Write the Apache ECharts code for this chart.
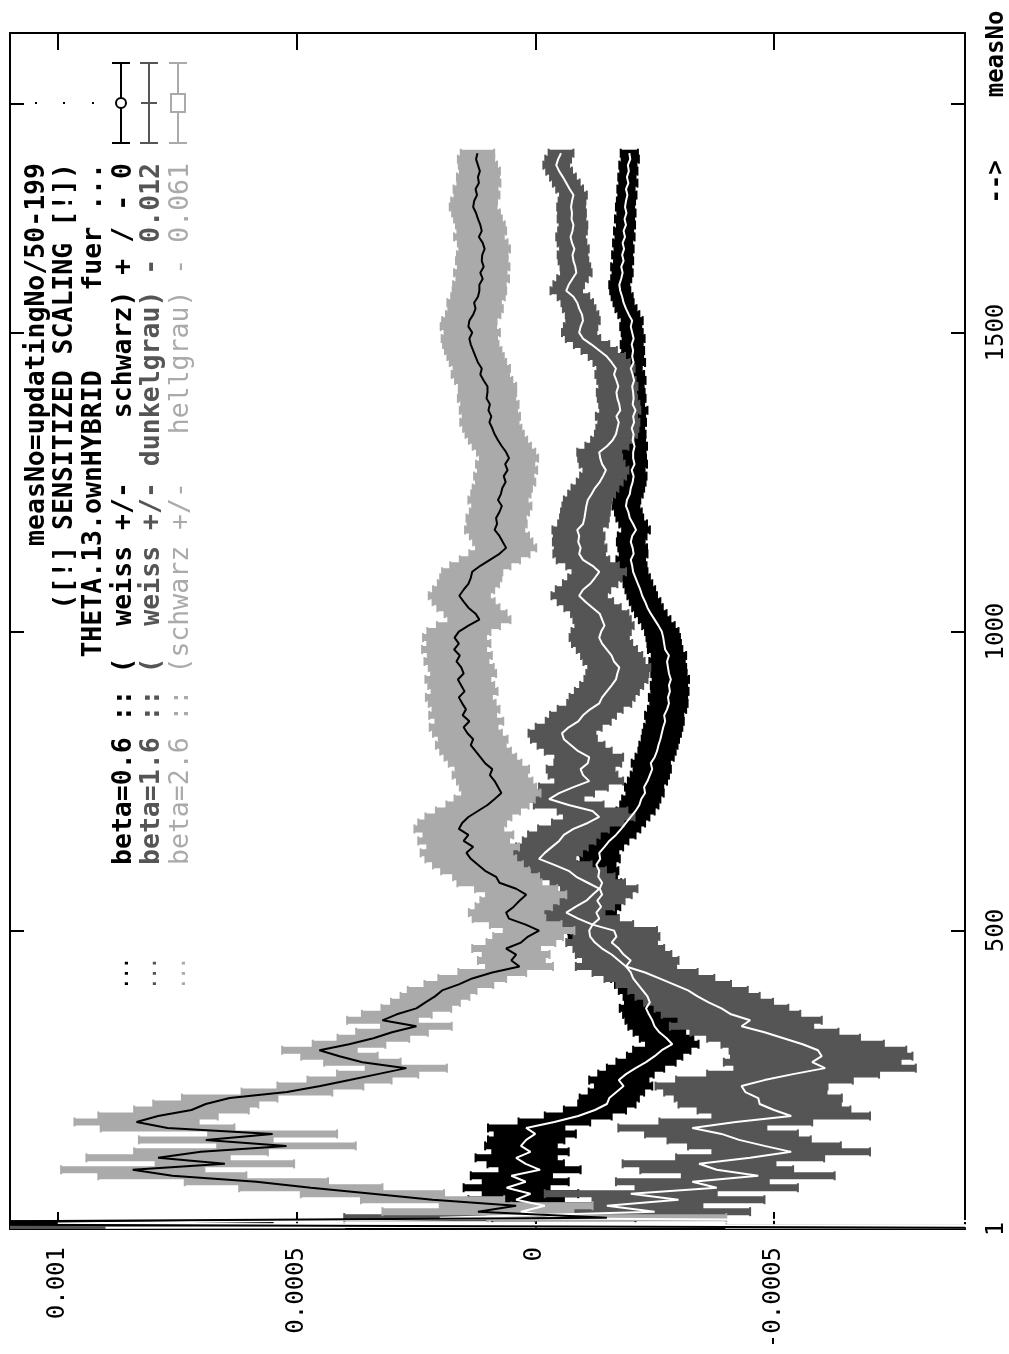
<!DOCTYPE html>
<html><head><meta charset="utf-8">
<script src="https://cdn.jsdelivr.net/npm/echarts@6/dist/echarts.min.js"></script>
<style>html,body{margin:0;padding:0;background:#fff}#c{width:1009px;height:1354px}</style>
</head><body><div id="c"></div>
<script>
// measurement numbers (vertical axis)
const measNo = [3,
10,20,30,40,50,60,70,80,90,100,
110,120,130,140,150,160,170,180,190,200,
210,220,230,240,250,260,270,280,290,300,
310,320,330,340,350,360,370,380,390,400,
410,420,430,440,450,460,470,480,490,500,
510,520,530,540,550,560,570,580,590,600,
610,620,630,640,650,660,670,680,690,700,
710,720,730,740,750,760,770,780,790,800,
810,820,830,840,850,860,870,880,890,900,
910,920,930,940,950,960,970,980,990,1000,
1010,1020,1030,1040,1050,1060,1070,1080,1090,1100,
1110,1120,1130,1140,1150,1160,1170,1180,1190,1200,
1210,1220,1230,1240,1250,1260,1270,1280,1290,1300,
1310,1320,1330,1340,1350,1360,1370,1380,1390,1400,
1410,1420,1430,1440,1450,1460,1470,1480,1490,1500,
1510,1520,1530,1540,1550,1560,1570,1580,1590,1600,
1610,1620,1630,1640,1650,1660,1670,1680,1690,1700,
1710,1720,1730,1740,1750,1760,1770,1780,1790,1800];

// values in units of 1e-6
// beta=0.6 (white line, black error bars)
const beta06 = [-2000,
1000,-60,30,-20,40,10,60,20,50,-10,
20,40,10,30,19,0,19,-40,-90,-125,
-150,-155,-170,-185,-175,-190,-210,-232,-250,-265,
-287,-275,-260,-250,-245,-238,-232,-240,-235,-225,
-215,-205,-200,-190,-175,-160,-140,-125,-115,-113,
-120,-134,-128,-138,-130,-140,-135,-140,-132,-134,
-128,-136,-134,-145,-155,-169,-180,-190,-200,-210,
-218,-222,-230,-228,-235,-240,-245,-242,-250,-255,
-258,-262,-265,-268,-272,-270,-276,-280,-278,-282,
-280,-284,-280,-278,-276,-280,-272,-270,-268,-265,
-258,-250,-242,-235,-230,-224,-220,-215,-210,-205,
-203,-200,-206,-204,-200,-203,-211,-205,-198,-195,
-190,-192,-198,-200,-204,-206,-202,-208,-205,-205,
-208,-204,-206,-202,-207,-205,-210,-204,-206,-205,
-203,-207,-204,-200,-206,-203,-205,-202,-206,-203,
-200,-203,-196,-190,-185,-182,-178,-176,-180,-183,
-180,-185,-182,-186,-183,-188,-185,-190,-187,-191,
-188,-190,-193,-190,-195,-192,-196,-194,-199,-197];
const err06 = [500,
450,150,120,110,100,100,90,90,85,85,
80,85,80,75,80,85,80,75,70,65,
60,62,58,60,62,58,60,62,58,60,
55,56,54,55,56,54,55,52,50,50,
48,46,45,46,44,45,46,44,45,44,
42,40,41,40,42,40,41,40,39,40,
40,41,40,39,40,41,40,40,39,40,
40,40,39,40,41,40,39,40,40,39,
40,39,40,40,39,40,40,39,40,39,
38,38,37,38,37,36,36,35,35,35,
34,33,33,32,32,31,31,30,30,30,
30,30,29,30,29,30,29,29,28,28,
28,28,27,28,27,27,27,26,27,26,
26,26,25,26,25,25,25,24,25,24,
24,24,24,23,24,23,23,23,23,22,
22,22,22,22,21,22,21,21,21,21,
21,20,21,20,20,20,20,19,20,19,
19,19,19,18,19,18,18,18,18,18];

// beta=1.6 (white line, dark grey error bars), shifted by -0.012
const beta16 = [900,
-1800,200,-250,-150,-300,-200,-380,-329,-467,-380,
-343,-450,-536,-480,-427,-390,-329,-420,-536,-500,
-470,-467,-440,-432,-480,-540,-607,-580,-600,-592,
-560,-520,-480,-432,-450,-410,-390,-363,-340,-320,
-290,-260,-230,-190,-200,-185,-175,-160,-170,-165,
-120,-90,-65,-85,-107,-120,-134,-110,-86,-70,
-40,-8,-20,-35,-50,-60,-80,-110,-134,-120,
-70,-29,-50,-80,-113,-100,-95,-110,-113,-90,
-75,-60,-56,-70,-90,-100,-115,-134,-140,-150,
-160,-169,-172,-176,-165,-160,-150,-140,-134,-138,
-145,-140,-135,-120,-105,-92,-100,-115,-125,-134,
-120,-100,-92,-95,-90,-92,-88,-100,-103,-105,
-107,-110,-118,-125,-135,-142,-148,-140,-136,-134,
-150,-162,-169,-172,-175,-170,-178,-176,-172,-170,
-174,-170,-165,-169,-160,-150,-134,-118,-100,-92,
-95,-100,-98,-92,-88,-80,-65,-70,-78,-86,
-84,-80,-78,-82,-77,-74,-78,-80,-76,-77,
-75,-77,-80,-72,-65,-58,-50,-44,-48,-54];
const err16 = [500,
250,200,200,200,180,180,170,160,160,160,
160,155,165,160,150,160,155,160,165,160,
170,175,170,180,185,180,190,185,190,185,
170,160,155,150,150,145,140,135,130,125,
120,115,110,105,100,100,95,95,90,90,
85,85,80,80,80,82,80,78,80,78,
78,76,78,75,76,75,74,75,74,73,
73,72,73,72,71,72,71,70,71,70,
70,69,70,69,68,69,68,67,68,67,
66,66,65,65,64,64,63,63,62,62,
61,60,60,59,58,58,57,57,56,56,
55,55,54,54,53,53,52,52,51,51,
50,50,49,49,48,48,47,47,46,46,
45,45,44,44,43,43,42,42,41,41,
40,40,39,39,38,38,37,37,36,36,
35,35,34,34,33,33,33,32,32,32,
31,31,31,30,30,30,30,29,29,29,
29,28,28,28,28,27,27,27,27,26];

// beta=2.6 (black line, light grey error bars), shifted by -0.061
const beta26 = [-900,
1900,-150,120,40,215,341,470,584,760,843,
650,790,700,521,690,550,770,835,790,720,
690,640,520,450,389,330,270,362,410,452,
390,339,300,249,320,290,249,230,210,195,
160,132,90,33,50,40,61,30,15,-8,
20,55,61,45,33,19,40,75,82,105,
120,135,144,130,150,140,160,153,140,120,
100,85,71,78,85,95,90,105,115,125,
135,130,142,150,138,152,145,153,160,148,
155,162,150,155,165,158,170,160,169,160,
140,117,125,140,150,159,150,140,135,132,
115,95,75,61,68,75,85,80,82,75,
70,78,72,69,62,66,58,63,55,61,
70,78,85,90,96,92,98,95,102,100,
100,108,115,112,120,125,130,135,138,132,
140,138,130,125,128,120,117,117,110,115,
108,112,111,106,110,118,112,115,120,124,
130,128,122,125,118,120,116,120,124,121];
const err26 = [500,
300,250,200,160,150,150,150,150,155,150,
145,150,140,145,140,135,140,130,125,120,
110,100,95,90,88,85,85,80,80,78,
76,75,75,74,74,73,73,72,72,72,
72,71,71,70,70,70,71,72,73,74,
75,76,78,80,82,84,86,88,90,92,
94,95,96,96,95,94,93,92,90,88,
86,84,82,80,79,78,77,76,75,74,
73,72,72,71,71,70,70,70,69,69,
69,68,68,68,67,67,67,66,66,66,
66,65,65,65,65,64,64,64,64,63,
63,63,63,63,62,62,62,62,62,62,
62,62,62,62,62,62,62,61,61,61,
61,61,61,61,61,60,60,60,60,60,
60,60,60,59,59,59,59,58,58,58,
58,57,57,57,56,56,56,55,55,55,
54,54,53,53,52,52,51,51,50,50,
49,48,47,46,45,44,42,40,38,35];

// axis ticks and labels
const xTickValues = [0.001, 0.0005, 0, -0.0005];
const xTickLabels = ['0.001', '0.0005', '0', '-0.0005'];
const yTickValues = [1, 500, 1000, 1500, 1882];
const yLabelValues = [1, 500, 1000, 1500, 1752, 1966];
const yLabelTexts = ['1', '500', '1000', '1500', '{b|-->}', '{b|measNo}'];

// legend texts
const legendTitle = ['measNo=updatingNo/50-199', '([!] SENSITIZED SCALING [!])', 'THETA.13.ownHYBRID     fuer ...'];
const legendRows = [
  'beta=0.6 :: (  weiss +/-    schwarz) + / - 0',
  'beta=1.6 :: (  weiss +/- dunkelgrau) - 0.012',
  'beta=2.6 :: (schwarz +/-   hellgrau) - 0.061'
];
const legendLead = '...';

const BLACK = '#000000', DARK = '#555555', LIGHT = '#aaaaaa', WHITE = '#ffffff';
const MONO = '"DejaVu Sans Mono", "Liberation Mono", monospace';
const U = 1e-6;

function barsRender(color) {
  return function (params, api) {
    const cs = params.coordSys;
    const v = api.value(0), m = api.value(1), e = api.value(2);
    const pa = api.coord([v + e, m]), pb = api.coord([v - e, m]);
    const xl = Math.min(pa[0], pb[0]), xr = Math.max(pa[0], pb[0]);
    const y = pa[1];
    const lo = cs.x, hi = cs.x + cs.width;
    const h = Math.abs(api.size([0, 10])[1]) + 1;
    const children = [];
    const cl = Math.max(xl, lo), cr = Math.min(xr, hi);
    if (cr > cl) children.push({type: 'rect', shape: {x: cl, y: y - h / 2, width: cr - cl, height: h}, style: {fill: color}});
    const cap = 9;
    if (xl >= lo && xl <= hi) children.push({type: 'line', shape: {x1: xl, y1: y - cap / 2, x2: xl, y2: y + cap / 2}, style: {stroke: color, lineWidth: 2}});
    if (xr >= lo && xr <= hi) children.push({type: 'line', shape: {x1: xr, y1: y - cap / 2, x2: xr, y2: y + cap / 2}, style: {stroke: color, lineWidth: 2}});
    return {type: 'group', children: children};
  };
}

function makeBars(name, vals, errs, color) {
  return {
    type: 'custom', name: name, xAxisIndex: 0, yAxisIndex: 0, clip: true,
    data: measNo.map((m, i) => [vals[i] * U, m, errs[i] * U]),
    encode: {x: 0, y: 1},
    renderItem: barsRender(color)
  };
}
function makeLine(name, vals, color) {
  return {
    type: 'line', name: name, xAxisIndex: 0, yAxisIndex: 0, clip: true,
    data: measNo.map((m, i) => [vals[i] * U, m]),
    showSymbol: false, symbol: 'none',
    lineStyle: {color: color, width: 2}
  };
}

const axisLine = {show: true, onZero: false, lineStyle: {color: BLACK, width: 2}};
const labelFont = {fontFamily: MONO, fontSize: 24, color: BLACK};

const graphics = [];
const titleX = [37, 65, 94];
const rowX = [124, 152, 181];
const rowColors = [BLACK, DARK, LIGHT];
const rowWeights = ['bold', 'bold', 'normal'];
const LFONT = '26.5px ' + MONO;
legendTitle.forEach((t, i) => {
  graphics.push({type: 'text', x: titleX[i], y: 163, rotation: Math.PI / 2,
    style: {text: t, fill: BLACK, font: 'bold ' + LFONT, align: 'right', textAlign: 'right', verticalAlign: 'middle', textVerticalAlign: 'middle'}});
  graphics.push({type: 'rect', shape: {x: titleX[i] - 2, y: 102, width: 2, height: 2}, style: {fill: BLACK}});
});
const keyX = [121, 149, 178];
legendRows.forEach((t, i) => {
  graphics.push({type: 'text', x: rowX[i], y: 163, rotation: Math.PI / 2,
    style: {text: t, fill: rowColors[i], font: rowWeights[i] + ' ' + LFONT, align: 'right', textAlign: 'right', verticalAlign: 'middle', textVerticalAlign: 'middle'}});
  graphics.push({type: 'text', x: rowX[i], y: 958, rotation: Math.PI / 2,
    style: {text: legendLead, fill: rowColors[i], font: 'bold 17px ' + MONO, align: 'right', textAlign: 'right', verticalAlign: 'middle', textVerticalAlign: 'middle'}});
  const kx = keyX[i], c = rowColors[i];
  graphics.push({type: 'line', shape: {x1: kx, y1: 63, x2: kx, y2: 143}, style: {stroke: c, lineWidth: 2}});
  graphics.push({type: 'line', shape: {x1: kx - 9, y1: 63, x2: kx + 9, y2: 63}, style: {stroke: c, lineWidth: 2}});
  graphics.push({type: 'line', shape: {x1: kx - 9, y1: 143, x2: kx + 9, y2: 143}, style: {stroke: c, lineWidth: 2}});
});
graphics.push({type: 'circle', shape: {cx: 121, cy: 103, r: 5}, style: {fill: WHITE, stroke: BLACK, lineWidth: 2}});
graphics.push({type: 'line', shape: {x1: 141, y1: 103, x2: 157, y2: 103}, style: {stroke: DARK, lineWidth: 2}});
graphics.push({type: 'rect', shape: {x: 171, y: 94, width: 14, height: 18}, style: {fill: WHITE, stroke: LIGHT, lineWidth: 2}});

const chart = echarts.init(document.getElementById('c'), null, {renderer: 'canvas'});
chart.setOption({
  backgroundColor: '#ffffff',
  animation: false,
  grid: {left: 10, right: 44, top: 33, bottom: 125, containLabel: false},
  xAxis: [
    {type: 'value', position: 'bottom', inverse: true, min: -0.0009, max: 0.0011,
      axisLine: axisLine,
      axisTick: {show: true, inside: true, length: 17, customValues: xTickValues, lineStyle: {color: BLACK, width: 2}},
      axisLabel: Object.assign({show: true, rotate: 90, margin: 18, customValues: xTickValues,
        formatter: v => { const i = xTickValues.findIndex(t => Math.abs(t - v) < 1e-9); return i >= 0 ? xTickLabels[i] : ''; }}, labelFont),
      splitLine: {show: false}},
    {type: 'value', position: 'top', inverse: true, min: -0.0009, max: 0.0011,
      axisLine: axisLine,
      axisTick: {show: true, inside: true, length: 17, customValues: xTickValues, lineStyle: {color: BLACK, width: 2}},
      axisLabel: {show: false}, splitLine: {show: false}}
  ],
  yAxis: [
    {type: 'value', position: 'right', min: 1, max: 2001,
      axisLine: axisLine,
      axisTick: {show: true, inside: true, length: 14, customValues: yTickValues, lineStyle: {color: BLACK, width: 2}},
      axisLabel: Object.assign({show: true, rotate: 90, margin: 20, customValues: yLabelValues,
        formatter: v => { const i = yLabelValues.indexOf(v); return i >= 0 ? yLabelTexts[i] : ''; },
        rich: {b: {fontFamily: MONO, fontSize: 24, fontWeight: 'bold', color: BLACK}}}, labelFont),
      splitLine: {show: false}},
    {type: 'value', position: 'left', min: 1, max: 2001,
      axisLine: axisLine,
      axisTick: {show: true, inside: true, length: 14, customValues: yTickValues, lineStyle: {color: BLACK, width: 2}},
      axisLabel: {show: false}, splitLine: {show: false}}
  ],
  series: [
    makeBars('beta=0.6 bars', beta06, err06, BLACK),
    makeLine('beta=0.6', beta06, WHITE),
    makeBars('beta=1.6 bars', beta16, err16, DARK),
    makeLine('beta=1.6', beta16, WHITE),
    makeBars('beta=2.6 bars', beta26, err26, LIGHT),
    makeLine('beta=2.6', beta26, BLACK)
  ],
  graphic: graphics
});
</script></body></html>
